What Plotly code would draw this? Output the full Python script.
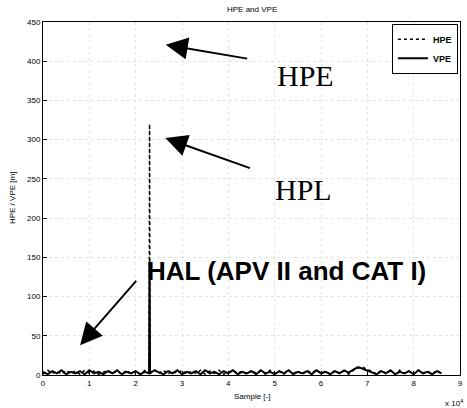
import plotly.graph_objects as go

# Sample index (in thousands of samples)
samples_k = [0, 1, 2, 3, 4, 5, 6, 7, 8, 9, 10, 11, 12, 13, 14, 15, 16, 17, 18, 19, 20, 21, 22,
             22.9, 23.0, 23.1,
             24, 25, 26, 27, 28, 29, 30, 31, 32, 33, 34, 35, 36, 37, 38, 39, 40, 41, 42, 43, 44,
             45, 46, 47, 48, 49, 50, 51, 52, 53, 54, 55, 56, 57, 58, 59, 60, 61, 62, 63, 64, 65,
             66, 67, 68, 69, 70, 71, 72, 73, 74, 75, 76, 77, 78, 79, 80, 81, 82, 83, 84, 85, 86]

hpe = [1, 6, 2, 5, 1, 6, 2, 5, 1, 6, 2, 5, 1, 3, 6, 2, 5, 1, 6, 2, 5, 1, 6,
       3, 320, 3,
       7, 2, 6, 1, 5, 2, 6, 1, 5, 2, 6, 1, 5, 2, 6, 1, 3, 6, 2, 5, 1,
       6, 2, 5, 1, 6, 2, 5, 1, 6, 2, 5, 1, 6, 2, 7, 2, 5, 1, 6, 2, 5,
       1, 6, 9, 10, 7, 5, 1, 6, 2, 5, 1, 6, 2, 5, 1, 6, 2, 5, 1, 6, 2]

vpe = [4, 1, 5, 2, 6, 1, 4, 2, 5, 1, 6, 2, 4, 1, 5, 2, 6, 1, 4, 2, 5, 1, 4,
       2, 145, 2,
       6, 3, 1, 5, 2, 6, 1, 4, 2, 5, 1, 6, 2, 4, 1, 5, 2, 6, 1, 4, 2,
       5, 1, 6, 2, 4, 1, 5, 2, 6, 1, 4, 2, 5, 1, 6, 2, 4, 1, 5, 2, 6,
       3, 7, 10, 8, 6, 3, 1, 5, 2, 6, 1, 4, 2, 5, 1, 6, 2, 4, 1, 5, 2]

x_ticks = [0, 1, 2, 3, 4, 5, 6, 7, 8, 9]
y_ticks = [0, 50, 100, 150, 200, 250, 300, 350, 400, 450]

x = [s / 10 for s in samples_k]  # in units of 10^4 samples

fig = go.Figure()
fig.add_trace(go.Scatter(x=x, y=hpe, mode="lines", name="HPE",
                         line=dict(color="black", width=1.5, dash="dot")))
fig.add_trace(go.Scatter(x=x, y=vpe, mode="lines", name="VPE",
                         line=dict(color="black", width=2)))

font = "Liberation Sans, Arial, sans-serif"
serif = "Liberation Serif, Times New Roman, serif"

axis_common = dict(showline=True, linecolor="black", linewidth=1, mirror=True,
                   ticks="inside", ticklen=4, tickcolor="black",
                   showgrid=True, gridcolor="#e4e4e4", griddash="dot", gridwidth=1,
                   zeroline=False, tickfont=dict(family=font, size=8, color="black"))

fig.update_xaxes(range=[0, 9], tickvals=x_ticks, ticktext=[str(t) for t in x_ticks], **axis_common)
fig.update_yaxes(range=[0, 450], tickvals=y_ticks, ticktext=[str(t) for t in y_ticks], **axis_common)

arrow = dict(xref="x", yref="y", axref="x", ayref="y", showarrow=True, arrowhead=2,
             arrowsize=2.2, arrowwidth=2, arrowcolor="black", standoff=0,
             font=dict(size=1, color="rgba(0,0,0,0)"))

annotations = [
    dict(text="HPE and VPE", xref="paper", yref="paper", x=0.5, y=1.035, showarrow=False,
         font=dict(family=font, size=8, color="black"), xanchor="center", yanchor="middle"),
    dict(text="HPE / VPE [m]", xref="paper", yref="paper", x=-0.073, y=0.5, textangle=-90,
         showarrow=False, font=dict(family=font, size=8, color="black"),
         xanchor="center", yanchor="middle"),
    dict(text="Sample [-]", xref="paper", yref="paper", x=0.5, y=-0.062, showarrow=False,
         font=dict(family=font, size=8, color="black"), xanchor="center", yanchor="middle"),
    dict(text="x 10<sup>4</sup>", xref="paper", yref="paper", x=0.985, y=-0.078, showarrow=False,
         font=dict(family=font, size=8, color="black"), xanchor="center", yanchor="middle"),
    # Text labels
    dict(text="HPE", x=5.66, y=382, xref="x", yref="y", showarrow=False,
         font=dict(family=serif, size=30, color="black")),
    dict(text="HPL", x=5.62, y=236, xref="x", yref="y", showarrow=False,
         font=dict(family=serif, size=30, color="black")),
    dict(text="<b>HAL (APV II and CAT I)</b>", x=5.26, y=133, xref="x", yref="y", showarrow=False,
         font=dict(family=font, size=26, color="black")),
    # Arrows
    dict(text="", x=2.65, y=421, ax=4.44, ay=403, **arrow),
    dict(text="", x=2.64, y=302, ax=4.50, ay=263, **arrow),
    dict(text="", x=0.80, y=38, ax=2.04, ay=122, **arrow),
]

fig.update_layout(
    width=467, height=408,
    margin=dict(l=43, r=4, t=22, b=33),
    paper_bgcolor="white", plot_bgcolor="white",
    showlegend=True,
    legend=dict(x=0.995, y=0.995, xanchor="right", yanchor="top",
                bordercolor="black", borderwidth=1, bgcolor="white",
                font=dict(family=font, size=9, color="black", weight="bold"),
                itemwidth=30, tracegroupgap=0),
    annotations=annotations,
)

fig.write_html("out.html")
